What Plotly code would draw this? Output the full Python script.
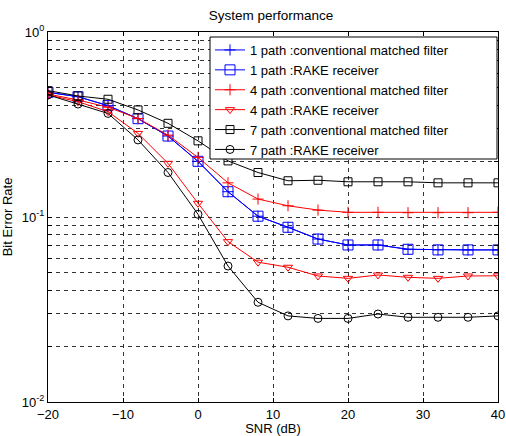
import plotly.graph_objects as go
import numpy as np

snr = [-20, -16, -12, -8, -4, 0, 4, 8, 12, 16, 20, 24, 28, 32, 36, 40]

ber_1path_conv = [0.472, 0.447, 0.40, 0.34, 0.274, 0.20, 0.137, 0.101, 0.088, 0.076, 0.0706, 0.0706, 0.0669, 0.0664, 0.0664, 0.0664]
ber_1path_rake = [0.472, 0.447, 0.40, 0.34, 0.274, 0.20, 0.137, 0.101, 0.088, 0.076, 0.0706, 0.0706, 0.0669, 0.0664, 0.0664, 0.0664]
ber_4path_conv = [0.462, 0.429, 0.392, 0.341, 0.277, 0.210, 0.153, 0.125, 0.115, 0.109, 0.106, 0.106, 0.1055, 0.1055, 0.1055, 0.106]
ber_4path_rake = [0.457, 0.420, 0.371, 0.283, 0.195, 0.1186, 0.0736, 0.057, 0.0535, 0.048, 0.0466, 0.0486, 0.0472, 0.0466, 0.048, 0.0481]
ber_7path_conv = [0.482, 0.451, 0.433, 0.379, 0.321, 0.258, 0.201, 0.174, 0.157, 0.158, 0.155, 0.155, 0.155, 0.153, 0.153, 0.153]
ber_7path_rake = [0.457, 0.408, 0.363, 0.261, 0.174, 0.1035, 0.0543, 0.0346, 0.0292, 0.0283, 0.0283, 0.0299, 0.0287, 0.0287, 0.0287, 0.0292]

series_names = [
    "1 path :conventional matched filter",
    "1 path :RAKE receiver",
    "4 path :conventional matched filter",
    "4 path :RAKE receiver",
    "7 path :conventional matched filter",
    "7 path :RAKE receiver",
]

x_tickvals = [-20, -10, 0, 10, 20, 30, 40]
y_major = [0.01, 0.1, 1]
y_major_text = ["10<sup>-2</sup>", "10<sup>-1</sup>", "10<sup>0</sup>"]

FONT = "Liberation Sans, Arial, sans-serif"

styles = [
    ("blue", "cross-thin-open", 8, ber_1path_conv),
    ("blue", "square-open", 10, ber_1path_rake),
    ("red", "cross-thin-open", 8, ber_4path_conv),
    ("red", "triangle-down-open", 8, ber_4path_rake),
    ("black", "square-open", 8, ber_7path_conv),
    ("black", "circle-open", 8, ber_7path_rake),
]

fig = go.Figure()
for name, (col, sym, sz, vals) in zip(series_names, styles):
    fig.add_trace(go.Scatter(
        x=snr, y=vals, name=name, mode="lines+markers",
        line=dict(color=col, width=1),
        marker=dict(symbol=sym, size=sz, color=col, line=dict(color=col, width=1)),
    ))

# log y ticks (major + minor for gridlines)
y_vals, y_text = [], []
for d in [0.01, 0.1]:
    for m in range(1, 10):
        y_vals.append(d * m)
        y_text.append("")
y_vals.append(1.0)
y_text.append("")
for v, t in zip(y_major, y_major_text):
    idx = int(np.argmin([abs(np.log10(a) - np.log10(v)) for a in y_vals]))
    y_text[idx] = t

# legend frame (wider than plotly's auto legend box, like the reference)
fig.add_shape(type="rect", xref="paper", yref="paper",
              x0=(210 - 48) / 450, x1=(497 - 48) / 450,
              y0=1 - (159 - 32) / 370, y1=1 - (37 - 32) / 370,
              line=dict(color="black", width=1), fillcolor="white", layer="above")

fig.update_layout(
    width=506, height=436,
    margin=dict(l=48, r=8, t=32, b=34),
    paper_bgcolor="white", plot_bgcolor="white",
    font=dict(family=FONT, size=13, color="black"),
    title=dict(text="System performance", x=271 / 506, xanchor="center",
               y=1 - 15 / 436, yanchor="middle", font=dict(size=13.5)),
    showlegend=True,
    legend=dict(x=0.36, y=1 - (35 - 32) / 370, xanchor="left", yanchor="top",
                bgcolor="rgba(0,0,0,0)", borderwidth=0,
                font=dict(size=13), tracegroupgap=0, itemwidth=30),
    xaxis=dict(range=[-20, 40], tickvals=x_tickvals, showline=True, mirror="ticks",
               linecolor="black", linewidth=1, ticks="inside", ticklen=4,
               tickcolor="black", showgrid=True, gridcolor="#333333", griddash="4px,4px",
               gridwidth=1, zeroline=False, automargin=False,
               title=dict(text="SNR (dB)", standoff=6, font=dict(size=13))),
    yaxis=dict(type="log", range=[-2, 0], tickvals=y_vals, ticktext=y_text,
               showline=True, mirror="ticks", linecolor="black", linewidth=1,
               ticks="inside", ticklen=4, tickcolor="black",
               showgrid=True, gridcolor="#333333", griddash="4px,4px", gridwidth=1,
               zeroline=False, automargin=False,
               title=dict(text="Bit Error Rate", standoff=8, font=dict(size=13))),
)

fig.write_html("out.html")
